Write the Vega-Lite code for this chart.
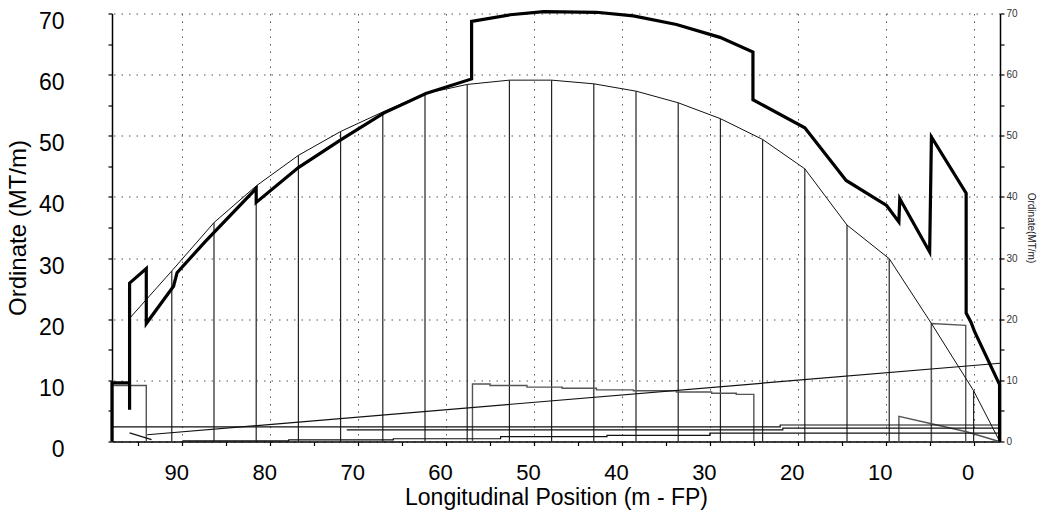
{
  "$schema": "https://vega.github.io/schema/vega-lite/v6.json",
  "width": 888,
  "height": 428,
  "autosize": {"type": "none"},
  "padding": {"left": 112, "top": 13.5, "right": 41, "bottom": 89.5},
  "background": "white",
  "config": {"view": {"stroke": null}, "font": "Liberation Sans"},
  "datasets": {
    "stations": [
      {"x": 91.2, "y": 27.9}, {"x": 86.4, "y": 35.8}, {"x": 81.6, "y": 41.8}, {"x": 76.8, "y": 46.8},
      {"x": 72.0, "y": 50.7}, {"x": 67.2, "y": 53.9}, {"x": 62.4, "y": 56.9}, {"x": 57.6, "y": 58.4},
      {"x": 52.8, "y": 59.1}, {"x": 48.0, "y": 59.1}, {"x": 43.2, "y": 58.5}, {"x": 38.4, "y": 57.3},
      {"x": 33.6, "y": 55.4}, {"x": 28.8, "y": 52.8}, {"x": 24.0, "y": 49.4}, {"x": 19.2, "y": 44.6},
      {"x": 14.4, "y": 35.4}, {"x": 9.6, "y": 29.9}, {"x": 4.8, "y": 19.3}, {"x": 0.0, "y": 8.3}
    ],
    "lines": [
      {"g": "thin", "s": "thin", "i": 0, "x": 95.9, "y": 20.3},
      {"g": "thin", "s": "thin", "i": 1, "x": 91.2, "y": 27.9},
      {"g": "thin", "s": "thin", "i": 2, "x": 86.4, "y": 35.8},
      {"g": "thin", "s": "thin", "i": 3, "x": 81.6, "y": 41.8},
      {"g": "thin", "s": "thin", "i": 4, "x": 76.8, "y": 46.8},
      {"g": "thin", "s": "thin", "i": 5, "x": 72.0, "y": 50.7},
      {"g": "thin", "s": "thin", "i": 6, "x": 67.2, "y": 53.9},
      {"g": "thin", "s": "thin", "i": 7, "x": 62.4, "y": 56.9},
      {"g": "thin", "s": "thin", "i": 8, "x": 57.6, "y": 58.4},
      {"g": "thin", "s": "thin", "i": 9, "x": 52.8, "y": 59.1},
      {"g": "thin", "s": "thin", "i": 10, "x": 48.0, "y": 59.1},
      {"g": "thin", "s": "thin", "i": 11, "x": 43.2, "y": 58.5},
      {"g": "thin", "s": "thin", "i": 12, "x": 38.4, "y": 57.3},
      {"g": "thin", "s": "thin", "i": 13, "x": 33.6, "y": 55.4},
      {"g": "thin", "s": "thin", "i": 14, "x": 28.8, "y": 52.8},
      {"g": "thin", "s": "thin", "i": 15, "x": 24.0, "y": 49.4},
      {"g": "thin", "s": "thin", "i": 16, "x": 19.2, "y": 44.6},
      {"g": "thin", "s": "thin", "i": 17, "x": 14.4, "y": 35.4},
      {"g": "thin", "s": "thin", "i": 18, "x": 9.6, "y": 29.9},
      {"g": "thin", "s": "thin", "i": 19, "x": 4.8, "y": 19.3},
      {"g": "thin", "s": "thin", "i": 20, "x": 0.0, "y": 8.3},
      {"g": "thin", "s": "thin", "i": 21, "x": -2.9, "y": 0.2},

      {"g": "thick", "s": "thick", "i": 0, "x": 98, "y": 0},
      {"g": "thick", "s": "thick", "i": 1, "x": 98, "y": 9.6},
      {"g": "thick", "s": "thick", "i": 2, "x": 96, "y": 9.6},
      {"g": "thick", "s": "thick", "i": 3, "x": 96, "y": 5.2},
      {"g": "thick", "s": "thick", "i": 4, "x": 96, "y": 25.9},
      {"g": "thick", "s": "thick", "i": 5, "x": 94.1, "y": 28.3},
      {"g": "thick", "s": "thick", "i": 6, "x": 94.1, "y": 19.3},
      {"g": "thick", "s": "thick", "i": 7, "x": 91.0, "y": 25.4},
      {"g": "thick", "s": "thick", "i": 8, "x": 90.6, "y": 27.6},
      {"g": "thick", "s": "thick", "i": 9, "x": 87.4, "y": 32.7},
      {"g": "thick", "s": "thick", "i": 10, "x": 81.6, "y": 41.4},
      {"g": "thick", "s": "thick", "i": 11, "x": 81.6, "y": 39.1},
      {"g": "thick", "s": "thick", "i": 12, "x": 76.8, "y": 44.8},
      {"g": "thick", "s": "thick", "i": 13, "x": 71.9, "y": 49.4},
      {"g": "thick", "s": "thick", "i": 14, "x": 67.1, "y": 53.7},
      {"g": "thick", "s": "thick", "i": 15, "x": 62.3, "y": 56.9},
      {"g": "thick", "s": "thick", "i": 16, "x": 57.1, "y": 59.3},
      {"g": "thick", "s": "thick", "i": 17, "x": 57.1, "y": 68.7},
      {"g": "thick", "s": "thick", "i": 18, "x": 52.7, "y": 69.8},
      {"g": "thick", "s": "thick", "i": 19, "x": 48.9, "y": 70.3},
      {"g": "thick", "s": "thick", "i": 20, "x": 42.9, "y": 70.2},
      {"g": "thick", "s": "thick", "i": 21, "x": 38.7, "y": 69.6},
      {"g": "thick", "s": "thick", "i": 22, "x": 33.8, "y": 68.2},
      {"g": "thick", "s": "thick", "i": 23, "x": 28.85, "y": 66.1},
      {"g": "thick", "s": "thick", "i": 24, "x": 25.1, "y": 63.7},
      {"g": "thick", "s": "thick", "i": 25, "x": 25.1, "y": 55.9},
      {"g": "thick", "s": "thick", "i": 26, "x": 19.2, "y": 51.3},
      {"g": "thick", "s": "thick", "i": 27, "x": 14.5, "y": 42.7},
      {"g": "thick", "s": "thick", "i": 28, "x": 9.9, "y": 38.6},
      {"g": "thick", "s": "thick", "i": 29, "x": 8.5, "y": 35.9},
      {"g": "thick", "s": "thick", "i": 30, "x": 8.4, "y": 39.7},
      {"g": "thick", "s": "thick", "i": 31, "x": 5.0, "y": 31.0},
      {"g": "thick", "s": "thick", "i": 32, "x": 4.8, "y": 49.8},
      {"g": "thick", "s": "thick", "i": 33, "x": 0.85, "y": 40.6},
      {"g": "thick", "s": "thick", "i": 34, "x": 0.85, "y": 21.0},
      {"g": "thick", "s": "thick", "i": 35, "x": 0.3, "y": 19.5},
      {"g": "thick", "s": "thick", "i": 36, "x": -0.1, "y": 18.0},
      {"g": "thick", "s": "thick", "i": 37, "x": -2.95, "y": 9.3},
      {"g": "thick", "s": "thick", "i": 38, "x": -2.95, "y": 0},

      {"g": "box", "s": "box1", "i": 0, "x": 98, "y": 0},
      {"g": "box", "s": "box1", "i": 1, "x": 98, "y": 9.15},
      {"g": "box", "s": "box1", "i": 2, "x": 94.1, "y": 9.15},
      {"g": "box", "s": "box1", "i": 3, "x": 94.1, "y": 0},

      {"g": "box", "s": "box2", "i": 0, "x": 57, "y": 0},
      {"g": "box", "s": "box2", "i": 1, "x": 57, "y": 9.4},
      {"g": "box", "s": "box2", "i": 2, "x": 55, "y": 9.4},
      {"g": "box", "s": "box2", "i": 3, "x": 55, "y": 9.15},
      {"g": "box", "s": "box2", "i": 4, "x": 50.8, "y": 9.15},
      {"g": "box", "s": "box2", "i": 5, "x": 50.8, "y": 8.9},
      {"g": "box", "s": "box2", "i": 6, "x": 46.8, "y": 8.9},
      {"g": "box", "s": "box2", "i": 7, "x": 46.8, "y": 8.7},
      {"g": "box", "s": "box2", "i": 8, "x": 42.9, "y": 8.7},
      {"g": "box", "s": "box2", "i": 9, "x": 42.9, "y": 8.45},
      {"g": "box", "s": "box2", "i": 10, "x": 38.7, "y": 8.45},
      {"g": "box", "s": "box2", "i": 11, "x": 38.7, "y": 8.3},
      {"g": "box", "s": "box2", "i": 12, "x": 33.8, "y": 8.3},
      {"g": "box", "s": "box2", "i": 13, "x": 33.8, "y": 8.1},
      {"g": "box", "s": "box2", "i": 14, "x": 29.8, "y": 8.1},
      {"g": "box", "s": "box2", "i": 15, "x": 29.8, "y": 7.9},
      {"g": "box", "s": "box2", "i": 16, "x": 27, "y": 7.9},
      {"g": "box", "s": "box2", "i": 17, "x": 27, "y": 7.7},
      {"g": "box", "s": "box2", "i": 18, "x": 25, "y": 7.7},
      {"g": "box", "s": "box2", "i": 19, "x": 25, "y": 0},

      {"g": "box", "s": "box3", "i": 0, "x": 4.8, "y": 0},
      {"g": "box", "s": "box3", "i": 1, "x": 4.8, "y": 19.3},
      {"g": "box", "s": "box3", "i": 2, "x": 0.9, "y": 19.0},
      {"g": "box", "s": "box3", "i": 3, "x": 0.9, "y": 0},

      {"g": "box", "s": "tri", "i": 0, "x": 8.5, "y": 0},
      {"g": "box", "s": "tri", "i": 1, "x": 8.5, "y": 4.1},
      {"g": "box", "s": "tri", "i": 2, "x": 4.8, "y": 2.9},
      {"g": "box", "s": "tri", "i": 3, "x": 0.8, "y": 1.6},
      {"g": "box", "s": "tri", "i": 4, "x": -2.9, "y": 0},

      {"g": "low", "s": "inc", "i": 0, "x": 94, "y": 1.1},
      {"g": "low", "s": "inc", "i": 1, "x": -3, "y": 12.8},

      {"g": "low", "s": "small", "i": 0, "x": 96, "y": 1.4},
      {"g": "low", "s": "small", "i": 1, "x": 93.5, "y": 0.3},

      {"g": "low", "s": "L1", "i": 0, "x": 98, "y": 2.4},
      {"g": "low", "s": "L1", "i": 1, "x": 22, "y": 2.4},
      {"g": "low", "s": "L1", "i": 2, "x": 22, "y": 2.7},
      {"g": "low", "s": "L1", "i": 3, "x": -3, "y": 2.7},

      {"g": "low", "s": "L2", "i": 0, "x": 71.3, "y": 1.9},
      {"g": "low", "s": "L2", "i": 1, "x": 21.7, "y": 1.9},
      {"g": "low", "s": "L2", "i": 2, "x": 21.7, "y": 2.2},
      {"g": "low", "s": "L2", "i": 3, "x": -3, "y": 2.2},

      {"g": "low", "s": "L3", "i": 0, "x": 90, "y": 0.1},
      {"g": "low", "s": "L3", "i": 1, "x": 77.9, "y": 0.1},
      {"g": "low", "s": "L3", "i": 2, "x": 77.9, "y": 0.28},
      {"g": "low", "s": "L3", "i": 3, "x": 66, "y": 0.28},
      {"g": "low", "s": "L3", "i": 4, "x": 66, "y": 0.45},
      {"g": "low", "s": "L3", "i": 5, "x": 53.8, "y": 0.45},
      {"g": "low", "s": "L3", "i": 6, "x": 53.8, "y": 0.8},
      {"g": "low", "s": "L3", "i": 7, "x": 41.7, "y": 0.8},
      {"g": "low", "s": "L3", "i": 8, "x": 41.7, "y": 1.0},
      {"g": "low", "s": "L3", "i": 9, "x": 30, "y": 1.0},
      {"g": "low", "s": "L3", "i": 10, "x": 30, "y": 1.37},
      {"g": "low", "s": "L3", "i": 11, "x": -3, "y": 1.37}
    ]
  },
  "resolve": {"axis": {"x": "independent", "y": "independent"}},
  "layer": [
    {
      "data": {"name": "stations"},
      "mark": {"type": "rule", "color": "#222", "strokeWidth": 1.2},
      "encoding": {
        "x": {
          "field": "x", "type": "quantitative",
          "scale": {"domain": [-3, 98], "reverse": true, "nice": false, "zero": false},
          "axis": {
            "orient": "bottom",
            "values": [95, 90, 85, 80, 75, 70, 65, 60, 55, 50, 45, 40, 35, 30, 25, 20, 15, 10, 5, 0],
            "labelExpr": "datum.value % 10 === 0 ? datum.label : ''",
            "title": "Longitudinal Position (m - FP)",
            "titleFont": "Liberation Sans", "titleFontSize": 23, "titleFontWeight": "normal", "titleColor": "#000",
            "titlePadding": 3,
            "labelFont": "Liberation Sans", "labelFontSize": 22, "labelColor": "#000",
            "labelPadding": 17, "labelOffset": -6, "labelFlush": false, "labelOverlap": false,
            "domainColor": "#000", "domainWidth": 1.5,
            "tickColor": "#000", "tickSize": 4, "tickWidth": 1.2,
            "grid": true, "gridColor": "#555", "gridDash": [1.5, 6], "gridWidth": 1,
            "gridOpacity": {"condition": {"test": "datum.value % 10 !== 0", "value": 0}, "value": 1}
          }
        },
        "y": {
          "field": "y", "type": "quantitative",
          "scale": {"domain": [0, 70], "nice": false},
          "axis": {
            "orient": "left",
            "values": [0, 5, 10, 15, 20, 25, 30, 35, 40, 45, 50, 55, 60, 65, 70],
            "labelExpr": "datum.value % 10 === 0 ? datum.label : ''",
            "title": "Ordinate (MT/m)",
            "titleFont": "Liberation Sans", "titleFontSize": 24, "titleFontWeight": "normal", "titleColor": "#000",
            "titlePadding": 8,
            "labelFont": "Liberation Sans", "labelFontSize": 23, "labelColor": "#000",
            "labelPadding": 44, "labelOffset": 8, "labelFlush": false, "labelOverlap": false,
            "domainColor": "#000", "domainWidth": 1.5,
            "tickColor": "#000", "tickSize": 4, "tickWidth": 1.2,
            "grid": true, "gridColor": "#555", "gridDash": [1.5, 6], "gridWidth": 1,
            "gridOpacity": {"condition": {"test": "datum.value % 10 !== 0", "value": 0}, "value": 1}
          }
        },
        "y2": {"datum": 0}
      }
    },
    {
      "data": {"name": "lines"},
      "transform": [{"filter": {"field": "g", "equal": "box"}}],
      "mark": {"type": "line", "color": "#555", "strokeWidth": 1.4, "interpolate": "linear"},
      "encoding": {
        "x": {"field": "x", "type": "quantitative", "axis": null},
        "y": {"field": "y", "type": "quantitative", "axis": null},
        "detail": {"field": "s"},
        "order": {"field": "i", "type": "quantitative"}
      }
    },
    {
      "data": {"name": "lines"},
      "transform": [{"filter": {"field": "g", "equal": "low"}}],
      "mark": {"type": "line", "color": "#111", "strokeWidth": 1.2},
      "encoding": {
        "x": {"field": "x", "type": "quantitative", "axis": null},
        "y": {"field": "y", "type": "quantitative", "axis": null},
        "detail": {"field": "s"},
        "order": {"field": "i", "type": "quantitative"}
      }
    },
    {
      "data": {"name": "lines"},
      "transform": [{"filter": {"field": "g", "equal": "thin"}}],
      "mark": {"type": "line", "color": "#111", "strokeWidth": 1},
      "encoding": {
        "x": {"field": "x", "type": "quantitative", "axis": null},
        "y": {
          "field": "y", "type": "quantitative",
          "axis": {
            "orient": "right",
            "values": [0, 5, 10, 15, 20, 25, 30, 35, 40, 45, 50, 55, 60, 65, 70],
            "labelExpr": "datum.value % 10 === 0 ? datum.label : ''",
            "title": "Ordinate(MT/m)",
            "titleFont": "Liberation Sans", "titleFontSize": 10, "titleFontWeight": "normal", "titleColor": "#222",
            "titlePadding": 8,
            "labelFont": "Liberation Sans", "labelFontSize": 10, "labelColor": "#333",
            "labelPadding": 2, "labelFlush": false, "labelOverlap": false,
            "domainColor": "#000", "domainWidth": 1.5,
            "tickColor": "#000", "tickSize": 4, "tickWidth": 1.2,
            "grid": false
          }
        },
        "order": {"field": "i", "type": "quantitative"}
      }
    },
    {
      "data": {"name": "lines"},
      "transform": [{"filter": {"field": "g", "equal": "thick"}}],
      "mark": {"type": "line", "color": "#000", "strokeWidth": 3.2, "strokeJoin": "miter"},
      "encoding": {
        "x": {"field": "x", "type": "quantitative", "axis": null},
        "y": {"field": "y", "type": "quantitative", "axis": null},
        "order": {"field": "i", "type": "quantitative"}
      }
    }
  ]
}
